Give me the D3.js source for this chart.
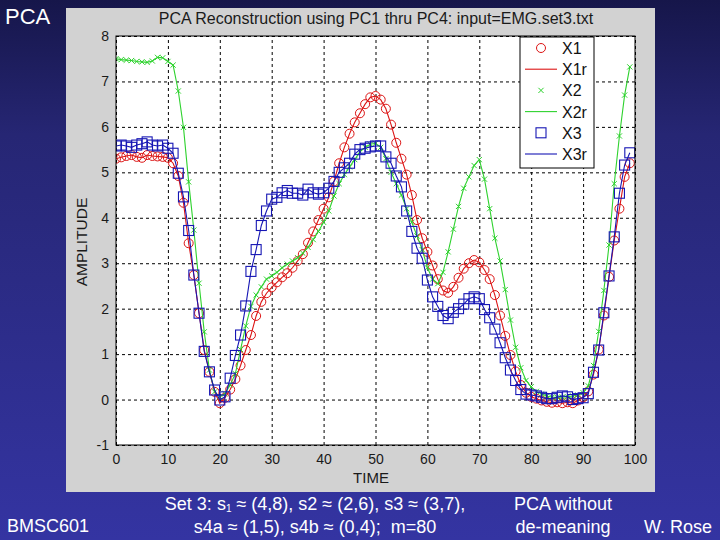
<!DOCTYPE html>
<html><head><meta charset="utf-8">
<script src="https://cdn.jsdelivr.net/npm/d3@7"></script>
<style>
html,body{margin:0;padding:0;}
body{width:720px;height:540px;overflow:hidden;}
text{font-family:"Liberation Sans",Arial,sans-serif;}
</style></head>
<body>
<svg id="c" width="720" height="540"></svg>
<script>
// ---- data ----
const time = d3.range(0, 100);
const x1 = [5.30,5.33,5.36,5.38,5.34,5.32,5.38,5.36,5.35,5.34,5.32,5.20,4.92,4.33,3.44,2.74,1.90,1.09,0.61,0.17,
 -0.08,0.04,0.22,0.45,0.75,1.09,1.42,1.84,2.15,2.34,2.47,2.58,2.69,2.78,2.90,3.05,3.20,3.45,3.70,3.95,
 4.20,4.45,4.80,5.20,5.55,5.85,6.10,6.30,6.50,6.65,6.68,6.60,6.40,6.05,5.65,5.30,4.95,4.50,3.95,3.55,
 3.25,2.95,2.65,2.40,2.35,2.48,2.68,2.88,3.00,3.07,3.02,2.85,2.65,2.30,1.85,1.40,0.98,0.62,0.32,0.15,
 0.06,0.02,-0.02,-0.05,-0.07,-0.06,-0.08,-0.06,-0.08,-0.02,0.05,0.18,0.55,1.10,1.85,2.70,3.50,4.20,4.90,5.20];
const x2 = [7.50,7.48,7.47,7.46,7.44,7.43,7.42,7.45,7.53,7.52,7.44,7.36,6.79,5.99,4.79,3.73,2.56,1.49,0.65,0.17,
 0.06,0.13,0.32,0.57,1.10,1.62,2.05,2.30,2.48,2.65,2.72,2.80,2.90,2.98,3.05,3.12,3.22,3.35,3.52,3.70,
 3.90,4.15,4.48,4.75,4.95,5.12,5.28,5.45,5.55,5.62,5.64,5.55,5.30,5.00,4.75,4.50,4.20,3.90,3.60,3.30,
 2.90,2.65,2.55,2.80,3.25,3.75,4.25,4.65,4.90,5.15,5.28,4.85,4.20,3.55,3.05,2.42,1.75,1.15,0.70,0.42,
 0.28,0.18,0.12,0.08,0.05,0.05,0.05,0.06,0.08,0.10,0.15,0.30,0.75,1.50,2.40,3.40,4.75,5.80,6.70,7.32];
const x3 = [5.58,5.60,5.58,5.55,5.60,5.63,5.67,5.60,5.58,5.60,5.53,5.42,4.98,4.46,3.72,2.74,1.90,1.06,0.61,0.21,
 -0.01,0.06,0.47,0.97,1.42,2.06,2.82,3.30,3.83,4.15,4.41,4.45,4.55,4.60,4.54,4.54,4.50,4.63,4.55,4.52,
 4.55,4.65,4.80,5.00,5.10,5.20,5.40,5.50,5.53,5.56,5.58,5.58,5.34,5.20,4.92,4.68,4.15,3.70,3.33,3.11,
 2.63,2.26,2.05,1.85,1.78,1.92,2.00,2.10,2.22,2.26,2.22,1.98,1.80,1.55,1.25,0.92,0.65,0.42,0.22,0.12,
 0.10,0.08,0.05,0.02,0.02,0.05,0.08,0.06,0.00,0.02,0.04,0.13,0.60,1.09,1.91,2.72,3.58,4.54,5.16,5.43];
// reconstructions with PC1..PC4 coincide with the inputs
const x1r = x1, x2r = x2, x3r = x3;
const xTicks = [0,10,20,30,40,50,60,70,80,90,100];
const yTicks = [-1,0,1,2,3,4,5,6,7,8];
const legendLabels = ["X1","X1r","X2","X2r","X3","X3r"];
const titleText = "PCA Reconstruction using PC1 thru PC4: input=EMG.set3.txt";

// ---- drawing ----
const svg = d3.select("#c");
const defs = svg.append("defs");
const grad = defs.append("linearGradient").attr("id","bg").attr("x1",0).attr("y1",0).attr("x2",0).attr("y2",1);
grad.append("stop").attr("offset","0%").attr("stop-color","#16164a");
grad.append("stop").attr("offset","25%").attr("stop-color","#262674");
grad.append("stop").attr("offset","100%").attr("stop-color","#3434a2");
svg.append("rect").attr("width",720).attr("height",540).attr("fill","url(#bg)");

// figure panel
svg.append("rect").attr("x",66).attr("y",8).attr("width",589).attr("height",484).attr("fill","#d2d2d2");

const L=116,R=635,T=36,B=445;
const x = d3.scaleLinear().domain([0,100]).range([L,R]);
const y = d3.scaleLinear().domain([-1,8]).range([B,T]);

svg.append("rect").attr("x",L).attr("y",T).attr("width",R-L).attr("height",B-T).attr("fill","#ffffff");

// grid
const gx = svg.append("g").attr("transform",`translate(0,${B})`)
  .call(d3.axisBottom(x).tickValues(xTicks).tickSize(-(B-T)).tickFormat(""));
gx.select(".domain").remove();
gx.selectAll("line").attr("stroke","#000").attr("stroke-dasharray","3,3").attr("stroke-width",1);
const gy = svg.append("g").attr("transform",`translate(${L},0)`)
  .call(d3.axisLeft(y).tickValues(yTicks).tickSize(-(R-L)).tickFormat(""));
gy.select(".domain").remove();
gy.selectAll("line").attr("stroke","#000").attr("stroke-dasharray","3,3").attr("stroke-width",1);

// tick labels
const fmt = d => String(d);
const ax = svg.append("g").attr("transform",`translate(0,${B})`)
  .call(d3.axisBottom(x).tickValues(xTicks).tickSize(0).tickPadding(9).tickFormat(fmt));
ax.select(".domain").remove();
ax.selectAll("text").attr("font-size",14).attr("fill","#1a1a1a").attr("font-family","Liberation Sans, Arial, sans-serif");
const ay = svg.append("g").attr("transform",`translate(${L},0)`)
  .call(d3.axisLeft(y).tickValues(yTicks).tickSize(0).tickPadding(7).tickFormat(fmt));
ay.select(".domain").remove();
ay.selectAll("text").attr("font-size",14).attr("fill","#1a1a1a").attr("font-family","Liberation Sans, Arial, sans-serif");

// clip
defs.append("clipPath").attr("id","clip").append("rect").attr("x",L).attr("y",T).attr("width",R-L).attr("height",B-T);
const plot = svg.append("g").attr("clip-path","url(#clip)");

const RED="#dc1414", GREEN="#2ed22e", BLUE="#1616b4";
const line = d3.line().x((d,i)=>x(time[i])).y(d=>y(d));

function circles(data,color){
  plot.append("g").selectAll("circle").data(data).join("circle")
    .attr("cx",(d,i)=>x(time[i])).attr("cy",d=>y(d)).attr("r",4.5)
    .attr("fill","none").attr("stroke",color).attr("stroke-width",1);
}
function crosses(data,color){
  const s=2.6;
  plot.append("g").selectAll("path").data(data).join("path")
    .attr("d",(d,i)=>{const cx=x(time[i]),cy=y(d);return `M${cx-s},${cy-s}L${cx+s},${cy+s}M${cx-s},${cy+s}L${cx+s},${cy-s}`;})
    .attr("fill","none").attr("stroke",color).attr("stroke-width",1);
}
function squares(data,color){
  plot.append("g").selectAll("rect").data(data).join("rect")
    .attr("x",(d,i)=>x(time[i])-5).attr("y",d=>y(d)-5).attr("width",10).attr("height",10)
    .attr("fill","none").attr("stroke",color).attr("stroke-width",1.1);
}
function lineOf(data,color){
  plot.append("path").datum(data).attr("d",line).attr("fill","none").attr("stroke",color).attr("stroke-width",1.1);
}
circles(x1,RED); lineOf(x1r,RED);
crosses(x2,GREEN); lineOf(x2r,GREEN);
squares(x3,BLUE); lineOf(x3r,BLUE);

// axes box
svg.append("rect").attr("x",L).attr("y",T).attr("width",R-L).attr("height",B-T).attr("fill","none").attr("stroke","#000").attr("stroke-width",1);

// legend
const lg = svg.append("g");
const lx=520, ly=37, lw=74, lh=131;
lg.append("rect").attr("x",lx).attr("y",ly).attr("width",lw).attr("height",lh).attr("fill","#fff").attr("stroke","#000");
const styles=[["o",RED],["-",RED],["x",GREEN],["-",GREEN],["s",BLUE],["-",BLUE]];
legendLabels.forEach((lab,i)=>{
  const cy = 48 + i*21.2;
  const [m,c]=styles[i];
  if(m==="-") lg.append("line").attr("x1",525).attr("x2",557).attr("y1",cy).attr("y2",cy).attr("stroke",c).attr("stroke-width",1.1);
  else if(m==="o") lg.append("circle").attr("cx",541).attr("cy",cy).attr("r",4.5).attr("fill","none").attr("stroke",c);
  else if(m==="x"){const s=2.6;lg.append("path").attr("d",`M${541-s},${cy-s}L${541+s},${cy+s}M${541-s},${cy+s}L${541+s},${cy-s}`).attr("stroke",c).attr("fill","none");}
  else lg.append("rect").attr("x",536).attr("y",cy-5).attr("width",10).attr("height",10).attr("fill","none").attr("stroke",c).attr("stroke-width",1.1);
  lg.append("text").attr("x",562).attr("y",cy+6).attr("font-size",16).attr("fill","#111").text(lab);
});

// titles
svg.append("text").attr("x",376).attr("y",24).attr("text-anchor","middle").attr("font-size",16).attr("fill","#1a1a1a").text(titleText);
svg.append("text").attr("x",371).attr("y",483).attr("text-anchor","middle").attr("font-size",15).attr("fill","#1a1a1a").text("TIME");
svg.append("text").attr("transform","translate(87,242) rotate(-90)").attr("text-anchor","middle").attr("font-size",15.5).attr("fill","#1a1a1a").text("AMPLITUDE");

// slide text
const W = (t,xx,yy,anchor)=>svg.append("text").attr("x",xx).attr("y",yy).attr("text-anchor",anchor).attr("font-size",18).attr("fill","#ffffff").text(t);
svg.append("text").attr("x",5).attr("y",24).attr("font-size",22).attr("fill","#fff").text("PCA");
W("BMSC601",7,532,"start");
const s1 = svg.append("text").attr("x",315).attr("y",510).attr("text-anchor","middle").attr("font-size",18).attr("fill","#fff");
s1.append("tspan").text("Set 3: s");
s1.append("tspan").attr("font-size",10).attr("dy",2).text("1");
s1.append("tspan").attr("dy",-2).text(" ≈ (4,8), s2 ≈ (2,6), s3 ≈ (3,7),");
W("s4a ≈ (1,5), s4b ≈ (0,4);  m=80",315,533,"middle").attr("xml:space","preserve");
W("PCA without",563,510,"middle");
W("de-meaning",563,533,"middle");
W("W. Rose",712,533,"end");
</script>
</body></html>
